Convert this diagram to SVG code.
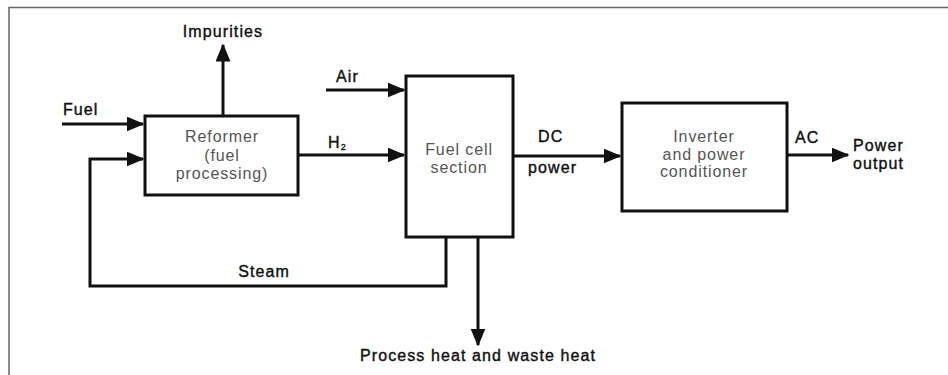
<svg xmlns="http://www.w3.org/2000/svg" width="948" height="375" viewBox="0 0 948 375">
<style>
.box{fill:#fff;stroke:#111;stroke-width:3}
.ln{fill:none;stroke:#111;stroke-width:3}
.lbl{font-family:"Liberation Sans",Arial,sans-serif;font-size:16px;letter-spacing:1.1px;fill:#111;stroke:#111;stroke-width:0.4}
.in{font-family:"Liberation Sans",Arial,sans-serif;font-size:16px;letter-spacing:0.9px;fill:#555;text-anchor:middle}
</style>
<defs>
<marker id="ah" markerWidth="6" markerHeight="5" refX="5.5" refY="2.5" orient="auto" markerUnits="strokeWidth">
<path d="M0,0 L6,2.5 L0,5 Z" fill="#111"/>
</marker>
</defs>
<rect width="948" height="375" fill="#fff"/>
<path d="M9,375 V7.5 H948" fill="none" stroke="#666" stroke-width="1.5"/>
<g id="connectors">
<line class="ln" x1="62" y1="124" x2="143" y2="124" marker-end="url(#ah)"/>
<line class="ln" x1="223" y1="116" x2="223" y2="45" marker-end="url(#ah)"/>
<path class="ln" d="M446,237 V286 H90 V159 H143" marker-end="url(#ah)"/>
<line class="ln" x1="326" y1="90" x2="404" y2="90" marker-end="url(#ah)"/>
<line class="ln" x1="298" y1="155" x2="404" y2="155" marker-end="url(#ah)"/>
<line class="ln" x1="478" y1="237" x2="478" y2="345" marker-end="url(#ah)"/>
<line class="ln" x1="513" y1="156" x2="620" y2="156" marker-end="url(#ah)"/>
<line class="ln" x1="787" y1="155" x2="848" y2="155" marker-end="url(#ah)"/>
<text class="lbl" x="63" y="115">Fuel</text>
<text class="lbl" x="223" y="37" text-anchor="middle">Impurities</text>
<text class="lbl" x="336" y="82">Air</text>
<text class="lbl" x="328" y="148">H<tspan font-size="9" dy="2">2</tspan></text>
<text class="lbl" x="264" y="277" text-anchor="middle">Steam</text>
<text class="lbl" x="538" y="142">DC</text>
<text class="lbl" x="528" y="173">power</text>
<text class="lbl" x="795" y="143">AC</text>
<text class="lbl" x="853" y="151">Power</text>
<text class="lbl" x="853" y="169">output</text>
<text class="lbl" x="478" y="361" text-anchor="middle">Process heat and waste heat</text>
</g>
<g id="reformer">
<rect class="box" x="145" y="116" width="153" height="79"/>
<text class="in" x="222" y="142">Reformer</text>
<text class="in" x="222" y="161">(fuel</text>
<text class="in" x="222" y="179">processing)</text>
</g>
<g id="fuelcell">
<rect class="box" x="406" y="76" width="107" height="161"/>
<text class="in" x="459" y="155">Fuel cell</text>
<text class="in" x="459" y="173">section</text>
</g>
<g id="inverter">
<rect class="box" x="622" y="103" width="165" height="108"/>
<text class="in" x="704" y="142">Inverter</text>
<text class="in" x="704" y="160">and power</text>
<text class="in" x="704" y="177">conditioner</text>
</g>
</svg>
